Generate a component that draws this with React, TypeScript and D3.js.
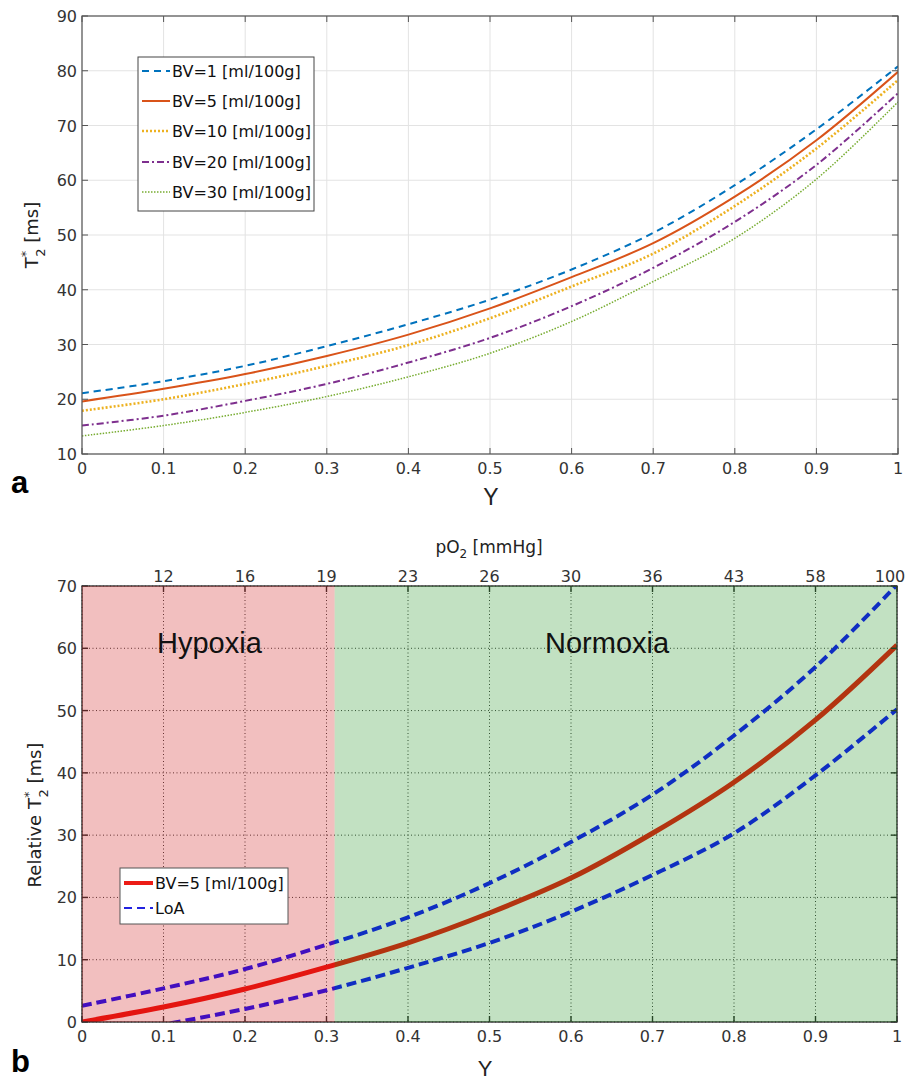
import React from 'react';
import * as d3 from 'd3';

// ---------- data ----------
const yFrac = [0, 0.1, 0.2, 0.3, 0.4, 0.5, 0.6, 0.7, 0.8, 0.9, 1.0];
const bv1 = [21.1, 23.3, 26.1, 29.7, 33.7, 38.2, 43.7, 50.4, 59.1, 69.3, 80.8];
const bv5 = [19.6, 21.9, 24.6, 27.9, 31.8, 36.6, 42.3, 48.5, 57.0, 67.3, 79.8];
const bv10 = [17.9, 20.0, 22.8, 26.1, 29.9, 34.8, 40.6, 46.6, 55.3, 65.8, 78.3];
const bv20 = [15.2, 17.0, 19.7, 22.8, 26.7, 31.2, 37.0, 44.0, 52.4, 62.8, 75.9];
const bv30 = [13.3, 15.2, 17.6, 20.5, 24.1, 28.4, 34.2, 41.5, 49.4, 60.2, 74.3];
const seriesNames = ['BV=1 [ml/100g]', 'BV=5 [ml/100g]', 'BV=10 [ml/100g]', 'BV=20 [ml/100g]', 'BV=30 [ml/100g]'];

const relBV5 = [0, 2.4, 5.3, 8.8, 12.7, 17.5, 23.1, 30.3, 38.5, 48.5, 60.5];
const loaUpper = [2.6, 5.4, 8.5, 12.4, 16.8, 22.3, 28.9, 36.5, 46.0, 57.0, 70.2];
const loaLower = [-2.6, -0.4, 2.1, 5.1, 8.7, 12.7, 17.7, 23.6, 30.3, 39.6, 50.2];
const hypoxiaLimit = 0.31;

const xTicks = [0, 0.1, 0.2, 0.3, 0.4, 0.5, 0.6, 0.7, 0.8, 0.9, 1];
const yTicksA = [10, 20, 30, 40, 50, 60, 70, 80, 90];
const yTicksB = [0, 10, 20, 30, 40, 50, 60, 70];
const pO2TickY = [0.1, 0.2, 0.3, 0.4, 0.5, 0.6, 0.7, 0.8, 0.9, 1.0];
const pO2Labels = ['12', '16', '19', '23', '26', '30', '36', '43', '58', '100'];

const FONT = 'Liberation Sans, Arial, Helvetica, sans-serif';
const WIDE = 'DejaVu Sans, Verdana, sans-serif';

const styles = [
  { color: '#0072BD', dash: '7,5', width: 2 },
  { color: '#D95319', dash: '', width: 2 },
  { color: '#EDB120', dash: '2,2', width: 2.6 },
  { color: '#7E2F8E', dash: '7,3,2,3', width: 2 },
  { color: '#77AC30', dash: '1.5,1.5', width: 1.5 },
];

function fmt(v: number) {
  return v === 0 ? '0' : v === 1 ? '1' : String(v);
}

export default function App() {
  // panel a scales
  const xa = d3.scaleLinear().domain([0, 1]).range([82, 898]);
  const ya = d3.scaleLinear().domain([10, 90]).range([454, 16]);
  // panel b scales
  const xb = d3.scaleLinear().domain([0, 1]).range([82, 897]);
  const yb = d3.scaleLinear().domain([0, 70]).range([1022, 586]);

  const lineA = d3
    .line<number>()
    .x((_, i) => xa(yFrac[i]))
    .y((d) => ya(d))
    .curve(d3.curveCatmullRom);
  const lineB = d3
    .line<number>()
    .x((_, i) => xb(yFrac[i]))
    .y((d) => yb(d))
    .curve(d3.curveCatmullRom);

  const seriesA = [bv1, bv5, bv10, bv20, bv30];
  const [ax0, ax1] = xa.range();
  const [ay0, ay1] = [ya(90), ya(10)];
  const [bx0, bx1] = xb.range();
  const [by0, by1] = [yb(70), yb(0)];
  const tick = 6;
  const frameColor = '#555';

  const legendA = { x: 138, y: 57, w: 176, h: 154 };
  const legendARows = [71, 101, 131, 162, 192];

  return (
    <svg
      width={907}
      height={1081}
      style={{ position: 'absolute', left: 0, top: 0, background: '#fff' }}
      fontFamily={FONT}
    >
      <defs>
        <clipPath id="clipA">
          <rect x={ax0} y={ay0} width={ax1 - ax0} height={ay1 - ay0} />
        </clipPath>
        <clipPath id="clipB">
          <rect x={bx0} y={by0} width={bx1 - bx0} height={by1 - by0} />
        </clipPath>
      </defs>
      <rect x={0} y={0} width={907} height={1081} fill="#fff" />

      {/* ================= Panel a ================= */}
      <g>
        {xTicks.map((t) => (
          <line key={'gxa' + t} x1={xa(t)} x2={xa(t)} y1={ay0} y2={ay1} stroke="#e3e3e3" strokeWidth={1} />
        ))}
        {yTicksA.map((t) => (
          <line key={'gya' + t} x1={ax0} x2={ax1} y1={ya(t)} y2={ya(t)} stroke="#e3e3e3" strokeWidth={1} />
        ))}
        <g clipPath="url(#clipA)">
          {seriesA.map((s, i) => (
            <path
              key={'sa' + i}
              d={lineA(s) || ''}
              fill="none"
              stroke={styles[i].color}
              strokeWidth={styles[i].width}
              strokeDasharray={styles[i].dash || undefined}
            />
          ))}
        </g>
        {/* frame + ticks */}
        <rect x={ax0} y={ay0} width={ax1 - ax0} height={ay1 - ay0} fill="none" stroke={frameColor} strokeWidth={1.2} />
        {xTicks.map((t) => (
          <g key={'txa' + t}>
            <line x1={xa(t)} x2={xa(t)} y1={ay1} y2={ay1 - tick} stroke={frameColor} />
            <line x1={xa(t)} x2={xa(t)} y1={ay0} y2={ay0 + tick} stroke={frameColor} />
            <text x={xa(t)} y={474} fontSize={16} fontFamily={WIDE} textAnchor="middle" fill="#333">
              {fmt(t)}
            </text>
          </g>
        ))}
        {yTicksA.map((t) => (
          <g key={'tya' + t}>
            <line x1={ax0} x2={ax0 + tick} y1={ya(t)} y2={ya(t)} stroke={frameColor} />
            <line x1={ax1} x2={ax1 - tick} y1={ya(t)} y2={ya(t)} stroke={frameColor} />
            <text x={77} y={ya(t) + 6} fontSize={16} fontFamily={WIDE} textAnchor="end" fill="#333">
              {t}
            </text>
          </g>
        ))}
        <text x={491} y={505} fontSize={23} textAnchor="middle" fill="#222">
          Y
        </text>
        <text transform="translate(38,235) rotate(-90)" fontSize={18} fontFamily={WIDE} textAnchor="middle" fill="#222">
          T<tspan fontSize={13} dy={-8}>*</tspan>
          <tspan fontSize={13} dx={-6} dy={15}>2</tspan>
          <tspan dy={-7}> [ms]</tspan>
        </text>
        {/* legend */}
        <rect x={legendA.x} y={legendA.y} width={legendA.w} height={legendA.h} fill="#fff" stroke="#444" strokeWidth={1} />
        {seriesNames.map((n, i) => (
          <g key={'la' + i}>
            <line
              x1={142}
              x2={170}
              y1={legendARows[i]}
              y2={legendARows[i]}
              stroke={styles[i].color}
              strokeWidth={styles[i].width}
              strokeDasharray={styles[i].dash || undefined}
            />
            <text x={172} y={legendARows[i] + 6} fontSize={16} fontFamily={WIDE} fill="#111">
              {n}
            </text>
          </g>
        ))}
        <text x={11} y={493} fontSize={31} fontWeight="bold" fill="#000">
          a
        </text>
      </g>

      {/* ================= Panel b ================= */}
      <g>
        {xTicks.map((t) => (
          <line key={'gxb' + t} x1={xb(t)} x2={xb(t)} y1={by0} y2={by1} stroke="#444" strokeWidth={1} strokeDasharray="1,2.5" />
        ))}
        {yTicksB.map((t) => (
          <line key={'gyb' + t} x1={bx0} x2={bx1} y1={yb(t)} y2={yb(t)} stroke="#444" strokeWidth={1} strokeDasharray="1,2.5" />
        ))}
        <g clipPath="url(#clipB)">
          <path d={lineB(loaUpper) || ''} fill="none" stroke="#1414ff" strokeWidth={4} strokeDasharray="10,5" />
          <path d={lineB(loaLower) || ''} fill="none" stroke="#1414ff" strokeWidth={4} strokeDasharray="10,5" />
          <path d={lineB(relBV5) || ''} fill="none" stroke="#ec1c16" strokeWidth={5} />
        </g>
        {/* frame + ticks */}
        <rect x={bx0} y={by0} width={bx1 - bx0} height={by1 - by0} fill="none" stroke="#333" strokeWidth={1.4} />
        {xTicks.map((t) => (
          <g key={'txb' + t}>
            <line x1={xb(t)} x2={xb(t)} y1={by1} y2={by1 - tick} stroke="#333" strokeWidth={1.4} />
            <text x={xb(t)} y={1042} fontSize={16} fontFamily={WIDE} textAnchor="middle" fill="#333">
              {fmt(t)}
            </text>
          </g>
        ))}
        {pO2TickY.map((t, i) => (
          <g key={'tpb' + t}>
            <line x1={xb(t)} x2={xb(t)} y1={by0} y2={by0 + tick} stroke="#333" strokeWidth={1.4} />
            <text
              x={Math.min(xb(t), 890)}
              y={582}
              fontSize={16}
              fontFamily={WIDE}
              textAnchor="middle"
              fill="#333"
            >
              {pO2Labels[i]}
            </text>
          </g>
        ))}
        {yTicksB.map((t) => (
          <g key={'tyb' + t}>
            <line x1={bx0} x2={bx0 + tick} y1={yb(t)} y2={yb(t)} stroke="#333" strokeWidth={1.4} />
            <line x1={bx1} x2={bx1 - tick} y1={yb(t)} y2={yb(t)} stroke="#333" strokeWidth={1.4} />
            <text x={77} y={yb(t) + 6} fontSize={16} fontFamily={WIDE} textAnchor="end" fill="#333">
              {t}
            </text>
          </g>
        ))}
        {/* translucent region patches */}
        <rect
          x={xb(0)}
          y={by0}
          width={xb(hypoxiaLimit) - xb(0)}
          height={by1 - by0}
          fill="rgb(204,0,0)"
          fillOpacity={0.25}
        />
        <rect
          x={xb(hypoxiaLimit)}
          y={by0}
          width={xb(1) - xb(hypoxiaLimit)}
          height={by1 - by0}
          fill="rgb(0,128,0)"
          fillOpacity={0.24}
        />
        <text x={157} y={653} fontSize={29} fill="#111">
          Hypoxia
        </text>
        <text x={545} y={653} fontSize={29} fill="#111">
          Normoxia
        </text>
        <text x={489} y={553} fontSize={17} fontFamily={WIDE} textAnchor="middle" fill="#222">
          pO<tspan fontSize={12} dy={5}>2</tspan>
          <tspan dy={-5}> [mmHg]</tspan>
        </text>
        <text x={485} y={1076} fontSize={22} textAnchor="middle" fill="#222">
          Y
        </text>
        <text transform="translate(41,815) rotate(-90)" fontSize={18} fontFamily={WIDE} textAnchor="middle" fill="#222">
          Relative T<tspan fontSize={13} dy={-8}>*</tspan>
          <tspan fontSize={13} dx={-6} dy={15}>2</tspan>
          <tspan dy={-7}> [ms]</tspan>
        </text>
        {/* legend */}
        <rect x={120} y={868} width={168} height={56} fill="#fff" stroke="#555" strokeWidth={1} />
        <line x1={124} x2={153} y1={883} y2={883} stroke="#ec1c16" strokeWidth={4} />
        <text x={155} y={889} fontSize={16} fontFamily={WIDE} fill="#111">
          BV=5 [ml/100g]
        </text>
        <line x1={124} x2={153} y1={908} y2={908} stroke="#2222e0" strokeWidth={2} strokeDasharray="8,5" />
        <text x={155} y={914} fontSize={16} fontFamily={WIDE} fill="#111">
          LoA
        </text>
        <text x={11} y={1072} fontSize={31} fontWeight="bold" fill="#000">
          b
        </text>
      </g>
    </svg>
  );
}
